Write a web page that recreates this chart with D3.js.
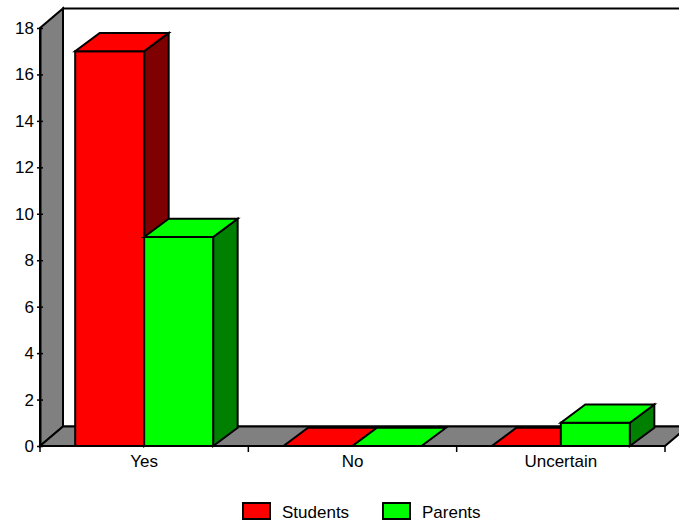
<!DOCTYPE html>
<html>
<head>
<meta charset="utf-8">
<script src="https://cdn.jsdelivr.net/npm/d3@7"></script>
<style>
  html, body { margin: 0; padding: 0; background: #fff; }
  svg { display: block; }
  text { font-family: "Liberation Sans", Arial, sans-serif; font-size: 17px; fill: #000; }
</style>
</head>
<body>
<svg id="chart" width="679" height="523"></svg>
<script>
// Survey answers per group
const categories = ["Yes", "No", "Uncertain"];
const series = ["Students", "Parents"];
const students = [17, 0, 0];
const parents = [9, 0, 1];
const yTicks = [0, 2, 4, 6, 8, 10, 12, 14, 16, 18];

const values = { Students: students, Parents: parents };
const frontColor = { Students: "#ff0000", Parents: "#00ff00" };
const sideColor = { Students: "#7f0000", Parents: "#008000" };

const svg = d3.select("#chart");

// Plot frame (front plane) and oblique depth
const plotLeft = 40, plotRight = 665, plotBottom = 446, plotTop = 28;
const wallDx = 23, wallDy = -19.5;   // depth of walls/floor
const barDx = 24.5, barDy = -18.3;   // depth of the bar boxes

const x0 = d3.scaleBand().domain(categories).range([plotLeft, plotRight]).padding(0);
const x1 = d3.scaleBand().domain(series).range([0, x0.bandwidth()])
  .paddingInner(0).paddingOuter(0.51);
const y = d3.scaleLinear().domain([0, 18]).range([plotBottom, plotTop]);

const line = d3.line();
const poly = pts => line(pts) + "Z";

// Back wall
svg.append("path")
  .attr("d", poly([[plotLeft + wallDx, plotTop + wallDy], [plotRight + wallDx, plotTop + wallDy],
                   [plotRight + wallDx, plotBottom + wallDy], [plotLeft + wallDx, plotBottom + wallDy]]))
  .attr("fill", "#fff").attr("stroke", "#000").attr("stroke-width", 2);

// Left side wall
svg.append("path")
  .attr("d", poly([[plotLeft, plotBottom], [plotLeft, plotTop], [plotLeft + wallDx, plotTop + wallDy],
                   [plotLeft + wallDx, plotBottom + wallDy]]))
  .attr("fill", "#808080").attr("stroke", "#000").attr("stroke-width", 2);

// Floor
svg.append("path")
  .attr("d", poly([[plotLeft, plotBottom], [plotRight, plotBottom], [plotRight + wallDx, plotBottom + wallDy],
                   [plotLeft + wallDx, plotBottom + wallDy]]))
  .attr("fill", "#808080").attr("stroke", "#000").attr("stroke-width", 2);

// Bars, drawn left to right so each box overlaps the side of the previous one
const bars = [];
categories.forEach((c, i) => {
  series.forEach(s => bars.push({ cat: c, ser: s, value: values[s][i] }));
});

const gBars = svg.append("g");
const outline = el => el.attr("stroke", "#000").attr("stroke-width", 2).attr("stroke-linejoin", "miter");
bars.forEach(d => {
  const xa = x0(d.cat) + x1(d.ser);
  const xb = xa + x1.bandwidth();
  const yv = y(d.value);
  const y0 = y(0);
  const g = gBars.append("g");
  if (d.value > 0) {
    // right side face
    outline(g.append("path")
      .attr("d", poly([[xb, y0], [xb, yv], [xb + barDx, yv + barDy], [xb + barDx, y0 + barDy]]))
      .attr("fill", sideColor[d.ser]));
    // front face
    outline(g.append("path")
      .attr("d", poly([[xa, y0], [xb, y0], [xb, yv], [xa, yv]]))
      .attr("fill", frontColor[d.ser]));
  }
  // top face
  outline(g.append("path")
    .attr("d", poly([[xa, yv], [xb, yv], [xb + barDx, yv + barDy], [xa + barDx, yv + barDy]]))
    .attr("fill", frontColor[d.ser]));
});

// Y axis
const yAxis = d3.axisLeft(y).tickValues(yTicks).tickSize(3).tickSizeOuter(0).tickPadding(3);
const gy = svg.append("g").attr("transform", `translate(${plotLeft},0)`).call(yAxis);
gy.select(".domain").attr("stroke", "#000").attr("stroke-width", 2);
gy.selectAll(".tick line").attr("stroke", "#000").attr("stroke-width", 1.5).attr("x2", -3).attr("x1", 3);
gy.selectAll(".tick text")
  .style("font-family", '"Liberation Sans", Arial, sans-serif')
  .style("font-size", "17px").attr("fill", "#000");

// X axis: baseline, ticks on category boundaries, labels centered
const gx = svg.append("g");
gx.append("line").attr("x1", plotLeft).attr("x2", plotRight).attr("y1", plotBottom).attr("y2", plotBottom)
  .attr("stroke", "#000").attr("stroke-width", 2);
const boundaries = categories.map(c => x0(c)).concat([x0.range()[1]]);
gx.selectAll("line.tick").data(boundaries).join("line").attr("class", "tick")
  .attr("x1", d => d).attr("x2", d => d).attr("y1", plotBottom).attr("y2", plotBottom + 6)
  .attr("stroke", "#000").attr("stroke-width", 1.5);
gx.selectAll("text").data(categories).join("text")
  .attr("x", d => x0(d) + x0.bandwidth() / 2)
  .attr("y", plotBottom + 21)
  .attr("text-anchor", "middle")
  .text(d => d);

// Legend
const legendX = { Students: 243, Parents: 383 };
const lg = svg.append("g");
series.forEach(s => {
  lg.append("rect").attr("x", legendX[s]).attr("y", 503).attr("width", 27).attr("height", 16)
    .attr("fill", frontColor[s]).attr("stroke", "#000").attr("stroke-width", 2);
  lg.append("text").attr("x", legendX[s] + 39).attr("y", 518).text(s);
});
</script>
</body>
</html>
